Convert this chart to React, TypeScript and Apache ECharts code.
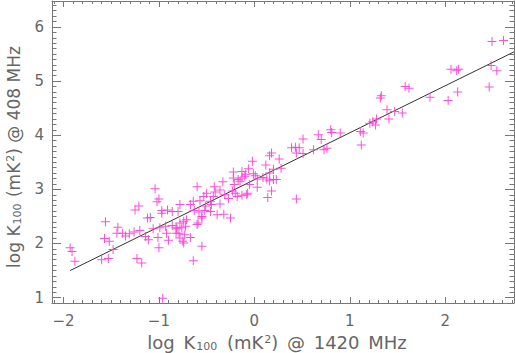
import React, { useEffect, useRef } from "react";
import * as echarts from "echarts";

// log K100 @ 1420 MHz (x) vs log K100 @ 408 MHz (y)
const samples: [number, number][] = [
  [-1.93, 1.92], [-1.91, 1.85], [-1.88, 1.67], [-1.56, 2.40], [-1.57, 2.09],
  [-1.52, 2.04], [-1.48, 1.89], [-1.60, 1.70], [-1.53, 1.72], [-1.43, 2.30],
  [-1.44, 2.19], [-1.38, 2.19], [-1.35, 2.14], [-1.31, 2.18], [-1.26, 2.21],
  [-1.20, 2.24], [-1.25, 2.62], [-1.21, 2.69], [-1.23, 1.72], [-1.18, 1.64],
  [-1.14, 2.13], [-1.11, 2.07], [-1.12, 2.47], [-1.09, 2.48], [-1.06, 2.27],
  [-1.04, 3.01], [-1.02, 2.77], [-1.00, 2.82], [-0.97, 2.61], [-0.97, 2.56],
  [-0.99, 2.29], [-1.01, 2.11], [-1.00, 1.92], [-0.96, 0.99], [-0.93, 2.32],
  [-0.92, 2.19], [-0.90, 2.06], [-0.91, 2.62], [-0.86, 2.59], [-0.86, 2.33],
  [-0.82, 2.30], [-0.82, 2.19], [-0.80, 2.59], [-0.78, 2.72], [-0.81, 2.27],
  [-0.60, 3.05], [-0.67, 2.72], [-0.64, 2.78], [-0.57, 2.79], [-0.53, 2.87],
  [-0.50, 2.93], [-0.42, 3.05], [-0.41, 2.95], [-0.36, 2.99], [-0.33, 3.14],
  [-0.31, 2.90], [-0.27, 2.83], [-0.22, 3.21], [-0.17, 3.18], [-0.13, 3.21],
  [-0.10, 3.24], [-0.21, 3.09], [-0.20, 2.93], [-0.18, 2.87], [-0.13, 2.89],
  [-0.05, 3.09], [-0.07, 2.93], [0.03, 3.04], [0.09, 3.22], [0.14, 2.85],
  [-0.46, 2.78], [-0.45, 2.72], [-0.36, 2.73], [-0.51, 2.69], [-0.52, 2.61],
  [-0.46, 2.59], [-0.39, 2.53], [-0.32, 2.54], [-0.25, 2.47], [-0.55, 2.50],
  [-0.55, 2.47], [-0.59, 2.38], [-0.58, 2.58], [-0.63, 2.61], [-0.71, 2.44],
  [-0.74, 2.41], [-0.78, 2.38], [-0.72, 2.32], [-0.76, 2.29], [-0.79, 2.19],
  [-0.73, 2.16], [-0.78, 2.10], [-0.75, 2.04], [-0.74, 2.01], [-0.55, 1.95],
  [-0.64, 1.68], [-0.67, 2.11], [-0.60, 2.35],
  [0.51, 3.93], [0.39, 3.77], [0.43, 3.78], [0.47, 3.77], [0.44, 3.67],
  [0.18, 3.67], [0.16, 3.62], [0.26, 3.56], [-0.02, 3.52], [0.12, 3.45],
  [-0.06, 3.38], [-0.13, 3.33], [-0.22, 3.32], [0.28, 3.39], [0.16, 3.30],
  [-0.01, 3.29], [-0.15, 3.15], [0.03, 3.19], [0.13, 3.19], [0.16, 3.16],
  [0.20, 3.18], [0.23, 3.18], [0.18, 2.97], [-0.43, 2.87], [-0.23, 2.97],
  [-0.08, 2.90], [0.44, 2.82], [0.01, 3.25], [0.20, 3.37], [-0.09, 3.28],
  [1.58, 4.90], [1.62, 4.87], [1.33, 4.73], [1.32, 4.69], [1.39, 4.47],
  [1.47, 4.44], [1.55, 4.41], [1.41, 4.30], [1.28, 4.30], [1.24, 4.25],
  [1.27, 4.19], [1.21, 4.22], [1.11, 4.07], [1.14, 4.04], [1.12, 3.82],
  [0.80, 4.10], [0.81, 4.05], [0.90, 4.04], [0.67, 4.01], [0.70, 3.92],
  [0.51, 3.66], [0.62, 3.73], [0.73, 3.73], [0.76, 3.76],
  [2.49, 5.73], [2.61, 5.75], [2.48, 5.29], [2.54, 5.19], [2.46, 4.89],
  [2.06, 5.22], [2.12, 5.19], [2.14, 5.22], [2.13, 4.80], [2.03, 4.64],
  [1.84, 4.70],
];

// fitted line end points
const fitLine: [number, number][] = [
  [-1.93, 1.5],
  [2.72, 5.54],
];

const xRange = [-2.12, 2.72];
const yRange = [0.9, 6.48];

const xTitle = "{n|log}{g| }{n|K}{s|100}{g| }{n|(mK}{p|2}{n|)}{g| }{n|@}{g| }{n|1420}{g| }{n|MHz}";
const yTitle = "{n|log}{g| }{n|K}{s|100}{g| }{n|(mK}{p|2}{n|)}{g| }{n|@}{g| }{n|408}{g| }{n|MHz}";

const AXIS = "#777";
const TEXT = "#666";
const FONT = "DejaVu Sans";

function richName(size: number, gapPad: number) {
  return {
    n: { fontSize: size, fontFamily: FONT, color: TEXT, lineHeight: 19, verticalAlign: "middle" },
    g: { fontSize: size, fontFamily: FONT, color: TEXT, lineHeight: 19, verticalAlign: "middle", padding: [0, gapPad, 0, gapPad] },
    s: { fontSize: 11, fontFamily: FONT, color: TEXT, lineHeight: 19, verticalAlign: "bottom", padding: [0, 1, 0, 1] },
    p: { fontSize: 11, fontFamily: FONT, color: TEXT, lineHeight: 19, verticalAlign: "top", padding: [1, 0, 0, 1] },
  };
}

function xAxisCfg(pos: "bottom" | "top", labels: boolean): any {
  return {
    type: "value",
    position: pos,
    min: xRange[0],
    max: xRange[1],
    splitNumber: 5,
    axisLine: { show: true, onZero: false, lineStyle: { color: AXIS, width: 1 } },
    axisTick: { show: true, inside: true, length: 6, lineStyle: { color: AXIS } },
    minorTick: { show: true, splitNumber: 10, length: 3, lineStyle: { color: AXIS } },
    splitLine: { show: false },
    axisLabel: {
      show: labels,
      color: TEXT,
      fontSize: 15,
      fontFamily: FONT,
      margin: 10,
      showMinLabel: false,
      showMaxLabel: false,
      formatter: (v: number) => (v < 0 ? "\u2212" + Math.abs(v) : String(v)),
    },
    name: labels ? xTitle : "",
    nameLocation: "middle",
    nameGap: 29,
    nameTextStyle: { rich: richName(18, 1.5), padding: [0, 12, 0, 0] },
  };
}

function yAxisCfg(pos: "left" | "right", labels: boolean): any {
  return {
    type: "value",
    position: pos,
    min: yRange[0],
    max: yRange[1],
    splitNumber: 5,
    axisLine: { show: true, onZero: false, lineStyle: { color: AXIS, width: 1 } },
    axisTick: { show: true, inside: true, length: 9, lineStyle: { color: AXIS } },
    minorTick: { show: true, splitNumber: 10, length: 4.5, lineStyle: { color: AXIS } },
    splitLine: { show: false },
    axisLabel: {
      show: labels,
      color: TEXT,
      fontSize: 15,
      fontFamily: FONT,
      margin: 8,
      showMinLabel: false,
      showMaxLabel: false,
    },
    name: labels ? yTitle : "",
    nameLocation: "middle",
    nameGap: 29,
    nameRotate: 90,
    nameTextStyle: { rich: richName(17, 0), padding: [0, 10, 0, 0] },
  };
}

export default function App() {
  const ref = useRef<HTMLDivElement>(null);

  useEffect(() => {
    document.body.style.margin = "0";
    if (!ref.current) return;
    const chart = echarts.init(ref.current, undefined, { renderer: "svg" });
    chart.setOption({
      animation: false,
      backgroundColor: "#fff",
      grid: { left: 52, right: 1, top: 1, bottom: 50, outerBoundsMode: "none" } as any,
      xAxis: [xAxisCfg("bottom", true), xAxisCfg("top", false)],
      yAxis: [yAxisCfg("left", true), yAxisCfg("right", false)],
      series: [
        {
          type: "line",
          data: fitLine,
          xAxisIndex: 0,
          yAxisIndex: 0,
          showSymbol: false,
          symbol: "none",
          lineStyle: { color: "#333", width: 1 },
          z: 1,
        },
        {
          type: "scatter",
          data: samples,
          xAxisIndex: 0,
          yAxisIndex: 0,
          symbol: "path://M4,0H5V9H4Z M0,4H9V5H0Z",
          symbolSize: 9,
          itemStyle: { color: "#ff3ad6", opacity: 0.9 },
          z: 2,
        },
      ],
    });
    return () => chart.dispose();
  }, []);

  return <div ref={ref} style={{ width: 515, height: 353 }} />;
}
